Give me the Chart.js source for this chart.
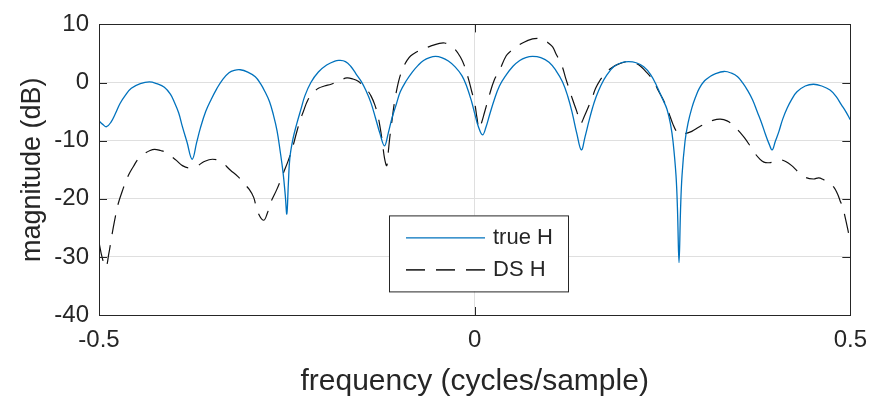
<!DOCTYPE html>
<html><head><meta charset="utf-8">
<script src="https://cdn.jsdelivr.net/npm/chart.js@4/dist/chart.umd.min.js"></script>
<style>html,body{margin:0;padding:0;background:#fff;overflow:hidden}#wrap{width:878px;height:403px}</style>
</head><body><div id="wrap"><canvas id="c" width="878" height="403"></canvas></div>
<script>
const seriesNames = ['true H', 'DS H'];
const xTicks = [-0.5, 0, 0.5];
const yTicks = [-40, -30, -20, -10, 0, 10];

const trueFreq = [-0.500,-0.495,-0.490,-0.484,-0.478,-0.472,-0.465,-0.457,-0.445,-0.433,-0.423,-0.413,-0.405,-0.400,-0.394,-0.389,-0.383,-0.376,-0.370,-0.365,-0.358,-0.351,-0.343,-0.335,-0.327,-0.320,-0.312,-0.302,-0.292,-0.285,-0.279,-0.273,-0.268,-0.263,-0.259,-0.255,-0.252,-0.250,-0.248,-0.246,-0.242,-0.237,-0.231,-0.226,-0.218,-0.208,-0.197,-0.186,-0.180,-0.172,-0.165,-0.158,-0.151,-0.145,-0.138,-0.132,-0.126,-0.120,-0.115,-0.110,-0.104,-0.099,-0.091,-0.083,-0.075,-0.068,-0.060,-0.052,-0.044,-0.035,-0.026,-0.017,-0.011,-0.004,0.000,0.005,0.0105,0.015,0.020,0.026,0.033,0.042,0.051,0.060,0.068,0.077,0.088,0.099,0.108,0.117,0.124,0.130,0.136,0.142,0.147,0.152,0.157,0.161,0.168,0.176,0.185,0.195,0.205,0.215,0.225,0.234,0.242,0.250,0.256,0.261,0.264,0.268,0.270,0.272,0.274,0.276,0.280,0.284,0.289,0.294,0.299,0.306,0.313,0.320,0.332,0.342,0.350,0.357,0.363,0.370,0.376,0.382,0.387,0.392,0.396,0.400,0.405,0.410,0.416,0.422,0.429,0.440,0.451,0.462,0.473,0.481,0.488,0.494,0.500];
const trueMag = [-6.6,-7.2,-7.6,-6.8,-5.3,-3.6,-2.2,-1.0,-0.2,0.1,-0.2,-0.8,-2.0,-3.3,-5.2,-7.6,-10.2,-13.2,-10.3,-7.8,-5.0,-3.0,-1.0,0.6,1.7,2.1,2.2,1.8,1.0,-0.2,-1.6,-3.3,-5.5,-8.3,-11.7,-15.5,-19.5,-22.6,-17.5,-13.0,-9.8,-7.2,-4.5,-2.3,0.0,1.8,3.0,3.7,3.8,3.6,2.8,1.5,0.2,-1.3,-3.5,-6.1,-8.8,-10.9,-8.7,-6.1,-3.6,-1.6,0.3,1.8,3.0,3.8,4.3,4.5,4.3,3.7,2.7,1.2,-0.5,-3.3,-5.3,-7.6,-9.0,-7.7,-5.5,-3.0,-0.6,1.3,2.8,3.8,4.3,4.5,4.3,3.5,2.1,0.1,-2.4,-5.3,-8.8,-11.6,-9.3,-6.7,-4.3,-2.7,-0.5,1.3,2.7,3.4,3.6,3.4,2.7,1.4,-0.5,-2.8,-4.6,-7.4,-10.1,-16.0,-22.0,-31.0,-22.0,-16.0,-10.1,-7.0,-4.4,-2.5,-1.0,0.3,1.0,1.5,1.9,1.6,1.0,-0.1,-1.3,-3.0,-5.0,-7.0,-8.9,-10.6,-11.6,-10.2,-8.4,-6.3,-4.4,-2.9,-1.6,-0.6,-0.3,-0.6,-1.3,-2.4,-3.8,-5.0,-6.4];

const dsFreq = [-0.500,-0.496,-0.491,-0.487,-0.483,-0.479,-0.475,-0.468,-0.461,-0.454,-0.448,-0.440,-0.432,-0.426,-0.418,-0.411,-0.404,-0.397,-0.389,-0.380,-0.370,-0.360,-0.349,-0.338,-0.325,-0.315,-0.307,-0.300,-0.294,-0.289,-0.281,-0.276,-0.272,-0.263,-0.255,-0.248,-0.242,-0.237,-0.232,-0.228,-0.222,-0.215,-0.208,-0.200,-0.191,-0.180,-0.170,-0.162,-0.155,-0.149,-0.143,-0.138,-0.133,-0.129,-0.126,-0.123,-0.120,-0.117,-0.115,-0.113,-0.110,-0.107,-0.103,-0.100,-0.096,-0.090,-0.085,-0.078,-0.068,-0.058,-0.048,-0.040,-0.033,-0.026,-0.019,-0.014,-0.008,-0.004,0.000,0.003,0.006,0.009,0.013,0.020,0.026,0.033,0.042,0.048,0.055,0.065,0.077,0.084,0.091,0.099,0.104,0.108,0.113,0.117,0.121,0.125,0.130,0.136,0.141,0.146,0.152,0.157,0.161,0.166,0.174,0.182,0.192,0.203,0.212,0.220,0.227,0.234,0.240,0.244,0.250,0.256,0.260,0.264,0.268,0.272,0.280,0.289,0.298,0.308,0.317,0.327,0.336,0.346,0.352,0.359,0.366,0.372,0.379,0.385,0.392,0.400,0.407,0.414,0.422,0.430,0.440,0.451,0.458,0.464,0.471,0.478,0.483,0.486,0.490,0.493,0.497,0.500];
const dsMag = [-27.5,-30.0,-31.8,-29.5,-26.4,-23.6,-21.1,-18.3,-16.0,-14.4,-13.2,-12.3,-11.7,-11.5,-11.7,-12.0,-12.7,-13.4,-14.3,-14.7,-14.4,-13.6,-13.2,-13.6,-15.1,-16.2,-17.4,-18.4,-19.8,-22.2,-23.7,-22.5,-20.8,-18.3,-15.7,-13.4,-11.0,-8.6,-6.4,-5.0,-3.0,-1.8,-1.0,-0.6,-0.3,0.3,0.8,0.6,0.2,-0.5,-1.3,-2.3,-3.8,-5.6,-7.6,-10.1,-13.0,-14.3,-12.0,-9.5,-6.5,-3.6,-0.8,0.8,2.3,3.8,4.6,5.2,5.8,6.3,6.7,6.8,6.4,5.7,4.4,3.0,0.5,-1.5,-3.5,-6.0,-8.0,-7.0,-5.2,-2.0,0.4,2.1,4.6,5.4,6.1,6.9,7.5,7.6,7.5,6.7,6.1,5.0,3.8,2.6,0.8,-0.8,-2.8,-5.0,-7.0,-5.8,-4.0,-2.4,-1.0,0.2,1.6,2.5,3.2,3.6,3.4,2.9,2.0,1.0,-0.2,-1.3,-2.7,-4.4,-5.8,-7.2,-8.3,-8.9,-8.8,-8.4,-7.7,-7.0,-6.5,-6.3,-6.6,-7.5,-8.4,-9.5,-10.8,-12.0,-13.1,-13.7,-13.8,-13.6,-13.3,-13.6,-14.3,-15.3,-16.3,-16.6,-16.4,-16.7,-17.2,-18.0,-19.2,-20.2,-21.6,-23.1,-25.5,-27.5];

const AX = '#262626';
const FONT = 'Liberation Sans, Arial, sans-serif';

const framePlugin = {
  id: 'frame',
  afterDraw(chart) {
    const {ctx, chartArea: a, scales: {x, y}} = chart;
    ctx.save();
    ctx.strokeStyle = AX; ctx.lineWidth = 1;
    ctx.beginPath();
    const tl = 8;
    xTicks.forEach(v => {
      const px = Math.round(x.getPixelForValue(v)) + 0.5;
      ctx.moveTo(px, a.bottom); ctx.lineTo(px, a.bottom - tl);
      ctx.moveTo(px, a.top); ctx.lineTo(px, a.top + tl);
    });
    yTicks.forEach(v => {
      const py = Math.round(y.getPixelForValue(v)) + 0.5;
      ctx.moveTo(a.left, py); ctx.lineTo(a.left + tl, py);
      ctx.moveTo(a.right, py); ctx.lineTo(a.right - tl, py);
    });
    ctx.stroke();
    ctx.strokeRect(Math.round(a.left) + 0.5, Math.round(a.top) + 0.5, Math.round(a.right - a.left), Math.round(a.bottom - a.top));

    // legend box
    const bx = a.left + 290, by = a.top + 191, bw = 179, bh = 76;
    ctx.fillStyle = '#fff';
    ctx.fillRect(bx, by, bw, bh);
    ctx.strokeStyle = AX; ctx.lineWidth = 1;
    ctx.strokeRect(bx + 0.5, by + 0.5, bw, bh);
    const ds = chart.data.datasets;
    const rows = [by + 22, by + 54];
    ds.forEach((d, i) => {
      ctx.beginPath();
      ctx.strokeStyle = i === 0 ? d.borderColor : '#333333';
      ctx.lineWidth = i === 0 ? d.borderWidth : 1.6;
      ctx.setLineDash(d.borderDash || []);
      ctx.moveTo(bx + 17, rows[i] + 0.5); ctx.lineTo(bx + 96, rows[i] + 0.5);
      ctx.stroke();
      ctx.setLineDash([]);
      ctx.fillStyle = AX;
      ctx.font = '22px ' + FONT;
      ctx.textBaseline = 'middle';
      ctx.textAlign = 'left';
      ctx.fillText(d.label, bx + 104, rows[i] + 1);
    });
    ctx.restore();
  }
};

const toPts = (xs, ys) => xs.map((v, i) => ({x: v, y: ys[i]}));

new Chart(document.getElementById('c'), {
  type: 'line',
  data: {
    datasets: [
      {label: seriesNames[0], data: toPts(trueFreq, trueMag), borderColor: '#0072BD', borderWidth: 1.3, pointRadius: 0, tension: 0.4, fill: false},
      {label: seriesNames[1], data: toPts(dsFreq, dsMag), borderColor: '#111111', borderWidth: 1.2, borderDash: [19, 11], pointRadius: 0, tension: 0.4, fill: false}
    ]
  },
  options: {
    responsive: false, devicePixelRatio: 1, animation: false,
    layout: {padding: {top: 20, right: 21, left: 0, bottom: 0}},
    plugins: {legend: {display: false}, tooltip: {enabled: false}},
    scales: {
      x: {
        type: 'linear', min: -0.5, max: 0.5,
        afterBuildTicks: s => { s.ticks = xTicks.map(v => ({value: v})); },
        afterFit: s => { s.height = 88; },
        grid: {color: '#dfdfdf', drawTicks: false},
        border: {display: false},
        ticks: {color: AX, font: {family: FONT, size: 24}, padding: 11, maxRotation: 0, callback: v => String(v)},
        title: {display: true, text: 'frequency (cycles/sample)', color: AX, font: {family: FONT, size: 30}, padding: {top: 0, bottom: 3}}
      },
      y: {
        type: 'linear', min: -40, max: 10,
        afterBuildTicks: s => { s.ticks = yTicks.map(v => ({value: v})); },
        afterFit: s => { s.width = 99; },
        grid: {color: '#dfdfdf', drawTicks: false},
        border: {display: false},
        ticks: {color: AX, font: {family: FONT, size: 24}, padding: 10, callback: v => String(v)},
        title: {display: true, text: 'magnitude (dB)', color: AX, font: {family: FONT, size: 27}, padding: {top: 16, bottom: 0}}
      }
    }
  },
  plugins: [framePlugin]
});
</script>
</body></html>
